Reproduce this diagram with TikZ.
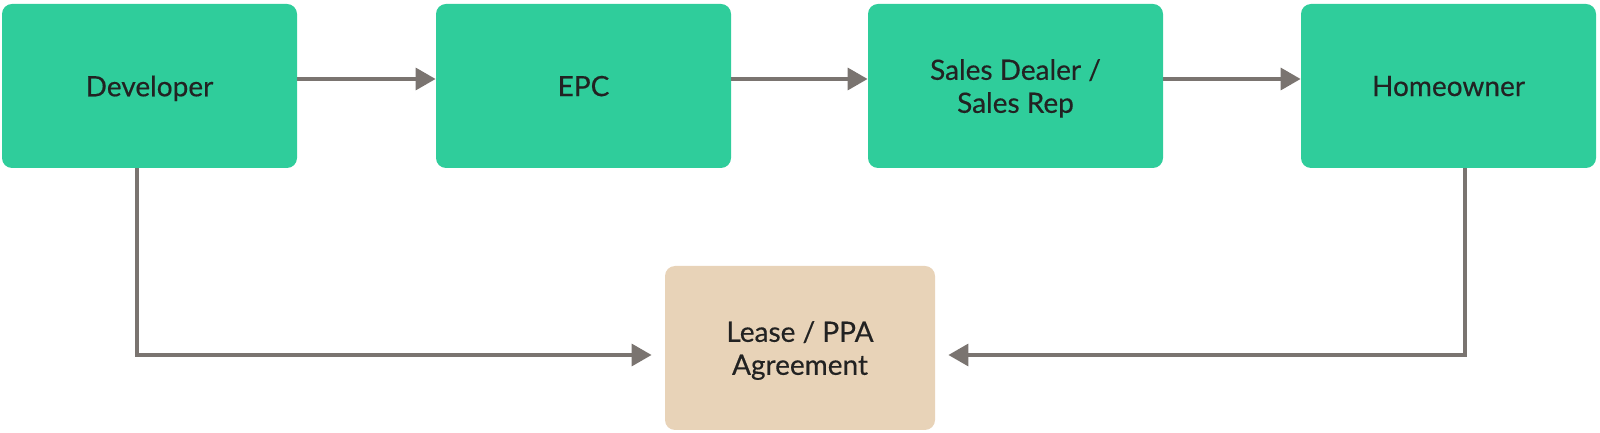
\documentclass[tikz,border=0pt]{standalone}
\usepackage{fontspec}
\setmainfont{Lato}[BoldFont=Lato, BoldFeatures={FakeBold=0.4}]
\usetikzlibrary{arrows.meta}
\definecolor{partygreen}{HTML}{2FCD9B}
\definecolor{dealtan}{HTML}{E8D3B8}
\definecolor{linkgray}{HTML}{7A7470}
\definecolor{inkdark}{HTML}{222222}
\begin{document}
\begin{tikzpicture}[x=0.5pt, y=0.5pt,
    party/.style={fill=partygreen, rounded corners=5pt, minimum width=147.5pt,
                  minimum height=82pt, text=inkdark, align=center, text depth=-3pt,
                  font=\fontsize{14}{16.5}\selectfont\bfseries},
    deal/.style={party, fill=dealtan, minimum width=135pt},
    flow/.style={-{Triangle[length=10pt, width=11pt]}, line width=1.7pt, draw=linkgray}]

  \useasboundingbox (0,0) rectangle (1600,433);

  % ---- the sales chain along the top
  \node[party] (dev)  at (149.5,347)  {Developer};
  \node[party] (epc)  at (583.5,347)  {EPC};
  \node[party] (rep)  at (1015.5,347) {Sales Dealer /\\Sales Rep};
  \node[party] (home) at (1448.5,347) {Homeowner};
  \draw[flow] ([yshift=3.5pt]dev.east) -- ([yshift=3.5pt]epc.west);
  \draw[flow] ([yshift=3.5pt]epc.east) -- ([yshift=3.5pt]rep.west);
  \draw[flow] ([yshift=3.5pt]rep.east) -- ([yshift=3.5pt]home.west);

  % ---- the contract both ends sign
  \node[deal] (lease) at (800,85) {Lease / PPA\\Agreement};
  \draw[flow, shorten >=6.5pt] ([xshift=-6.25pt]dev.south) |- ([yshift=-3.5pt]lease.west);
  \draw[flow, shorten >=6.5pt] ([xshift=8.25pt]home.south) |- ([yshift=-3.5pt]lease.east);
\end{tikzpicture}
\end{document}
